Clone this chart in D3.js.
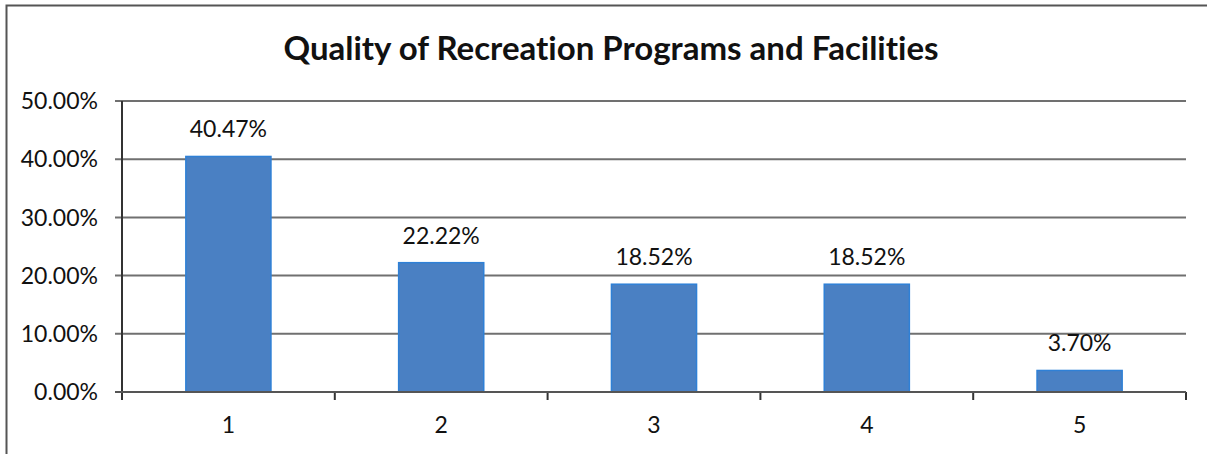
<!DOCTYPE html>
<html><head><meta charset="utf-8">
<script src="https://cdn.jsdelivr.net/npm/d3@7"></script>
<style>body{margin:0;background:#fff}svg{display:block}text{font-variant-ligatures:none}</style>
</head><body>
<svg id="c" width="1207" height="454"></svg>
<script>
const title = "Quality of Recreation Programs and Facilities";
const categories = ["1","2","3","4","5"];
const values = [40.47, 22.22, 18.52, 18.52, 3.70];
const yTicks = [0,10,20,30,40,50];

const svg = d3.select("#c");
const m={left:122,right:1186,top:101,bottom:392};
const font="Lato, 'Open Sans', sans-serif";

// outer border
svg.append("path").attr("d",`M6.5,454 L6.5,5.5 L1207,5.5`).attr("fill","none").attr("stroke","#555").attr("stroke-width",2);

const x=d3.scaleBand().domain(categories).range([m.left,m.right]).paddingInner(0.6).paddingOuter(0.3);
const xb=d3.scaleBand().domain(categories).range([m.left,m.right]);
const y=d3.scaleLinear().domain([0,50]).range([m.bottom,m.top]);

// gridlines
svg.append("g").selectAll("line").data(yTicks).join("line")
 .attr("x1",m.left-7).attr("x2",m.right).attr("y1",d=>y(d)).attr("y2",d=>y(d))
 .attr("stroke","#707070").attr("stroke-width",2);

// y axis
svg.append("line").attr("x1",m.left).attr("x2",m.left).attr("y1",m.top).attr("y2",m.bottom+8).attr("stroke","#333").attr("stroke-width",2);
svg.append("g").selectAll("text").data(yTicks).join("text")
 .attr("x",m.left-24).attr("y",d=>y(d)).attr("dy","0.36em").attr("text-anchor","end")
 .attr("font-family",font).attr("font-size",23).attr("fill","#111")
 .text(d=>d.toFixed(2)+"%");

// x ticks at boundaries
const bounds=categories.map(c=>xb(c)).concat([m.right]);
svg.append("g").selectAll("line").data(bounds).join("line")
 .attr("x1",d=>d).attr("x2",d=>d).attr("y1",m.bottom).attr("y2",m.bottom+8)
 .attr("stroke","#333").attr("stroke-width",2);
svg.append("g").selectAll("text").data(categories).join("text")
 .attr("x",d=>xb(d)+xb.bandwidth()/2).attr("y",m.bottom+41)
 .attr("text-anchor","middle").attr("font-family",font).attr("font-size",23).attr("fill","#111")
 .text(d=>d);

// bars
svg.append("g").selectAll("rect").data(values).join("rect")
 .attr("x",(d,i)=>x(categories[i])).attr("width",x.bandwidth())
 .attr("y",d=>y(d)).attr("height",d=>y(0)-y(d))
 .attr("fill","#4a80c3").attr("stroke","#2f80d6").attr("stroke-width",1.5);

// labels
svg.append("g").selectAll("text").data(values).join("text")
 .attr("x",(d,i)=>x(categories[i])+x.bandwidth()/2).attr("y",d=>y(d)-19)
 .attr("text-anchor","middle").attr("font-family",font).attr("font-size",23).attr("fill","#111")
 .text(d=>d.toFixed(2)+"%");

// x axis line
svg.append("line").attr("x1",m.left-7).attr("x2",m.right).attr("y1",m.bottom).attr("y2",m.bottom).attr("stroke","#555").attr("stroke-width",2);

svg.append("text").attr("x",611).attr("y",60).attr("text-anchor","middle")
 .attr("font-family",font).attr("font-weight","bold").attr("font-size",33).attr("fill","#111").text(title);
</script>
</body></html>
